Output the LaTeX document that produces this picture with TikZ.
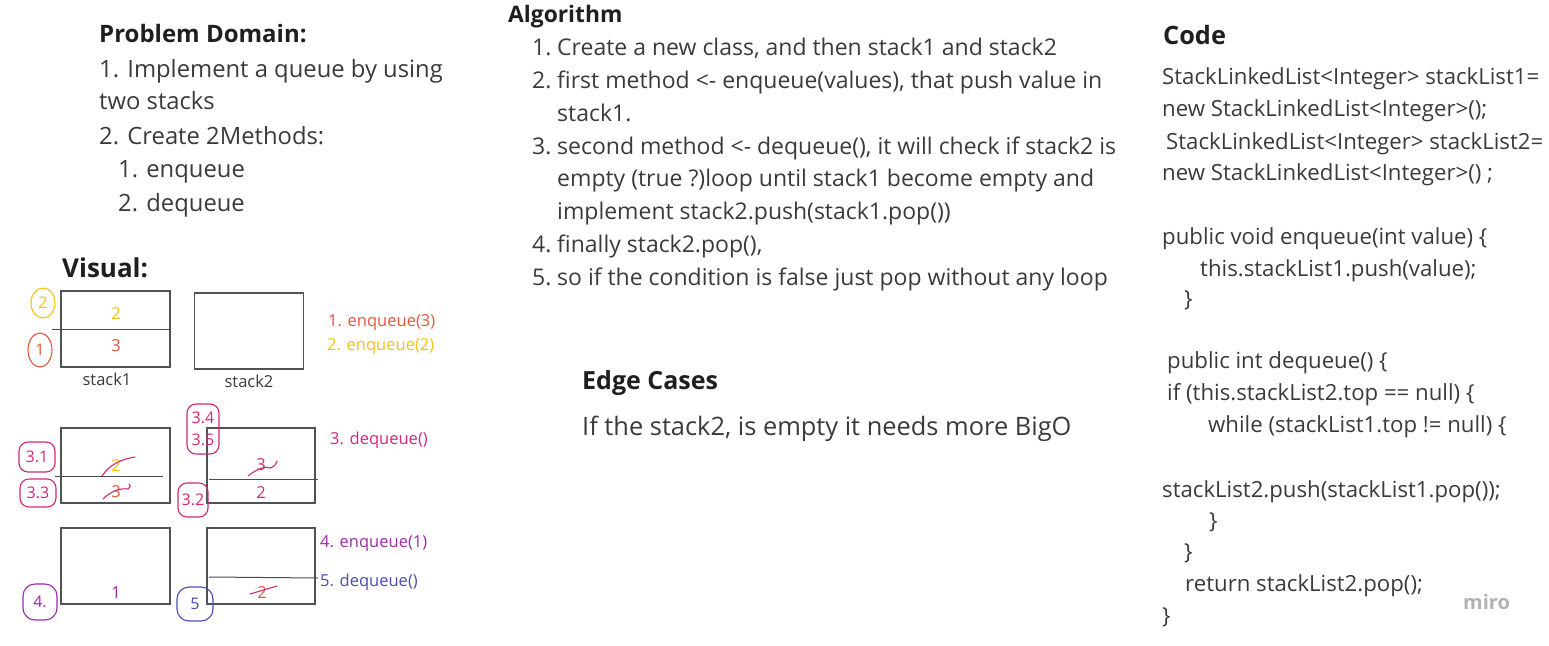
\documentclass[tikz,border=0pt]{standalone}
\usepackage{fontspec}
\setmainfont{Open Sans}
\usetikzlibrary{shapes.geometric}

\definecolor{inkgray}{HTML}{3A3A3A}
\definecolor{headink}{HTML}{1F1F1F}
\definecolor{penred}{HTML}{E8553A}
\definecolor{penyellow}{HTML}{F5C213}
\definecolor{penmagenta}{HTML}{D1287A}
\definecolor{penpurple}{HTML}{9C2AA8}
\definecolor{penblue}{HTML}{4B4BB5}

\begin{document}
\begin{tikzpicture}[x=1pt,y=-1pt,
  heading/.style={anchor=base west,inner sep=0pt,text=headink,font=\fontsize{24}{28}\bfseries\selectfont},
  body/.style={anchor=base west,inner sep=0pt,text=inkgray,font=\fontsize{23.8}{28}\selectfont},
  algo/.style={anchor=base west,inner sep=0pt,text=inkgray,font=\fontsize{23}{28}\selectfont},
  code/.style={anchor=base west,inner sep=0pt,text=inkgray,font=\fontsize{22.2}{28}\selectfont},
  stackbox/.style={draw=black!68,line width=1.4pt,minimum width=109pt,minimum height=76pt,inner sep=0pt},
  divider/.style={draw=black!70,line width=1pt},
  num/.style={inner sep=0pt,font=\fontsize{16.5}{20}\selectfont},
  steplabel/.style={anchor=west,inner sep=0pt,font=\fontsize{16.5}{20}\selectfont},
  ringmark/.style={draw,line width=1.1pt,rounded corners=9pt,inner sep=1pt,font=\fontsize{16}{19}\selectfont},
  strike/.style={line width=1.1pt,line cap=round}
]
\useasboundingbox (0,0) rectangle (1549,645);

% problem domain
\node[heading] (pdhead) at (99,42) {Problem Domain:};
\node[body] (pd1) at (99,77) {1. Implement a queue by using};
\node[body] (pd2) at (99,109) {two stacks};
\node[body] (pd3) at (99,144) {2. Create 2Methods:};
\node[body] (pd4) at (118,177) {1. enqueue};
\node[body] (pd5) at (118,211) {2. dequeue};

% algorithm
\node[heading,font=\fontsize{22.8}{26}\bfseries\selectfont] (alhead) at (508,23) {Algorithm};
\foreach \n/\y in {1./55, 2./88, 3./154, 4./252, 5./285}
  \node[algo] (alnum\y) at (532,\y) {\n};
\node[algo] (al1) at (557,55) {Create a new class, and then stack1 and stack2};
\node[algo] (al2) at (557,88) {first method <- enqueue(values), that push value in};
\node[algo] (al3) at (557,121) {stack1.};
\node[algo] (al4) at (557,154) {second method <- dequeue(), it will check if stack2 is};
\node[algo] (al5) at (557,186) {empty (true ?)loop until stack1 become empty and};
\node[algo] (al6) at (557,219) {implement stack2.push(stack1.pop())};
\node[algo] (al7) at (557,252) {finally stack2.pop(),};
\node[algo] (al8) at (557,285) {so if the condition is false just pop without any loop};

% edge cases
\node[heading,font=\fontsize{25}{29}\bfseries\selectfont] (edhead) at (582,389) {Edge Cases};
\node[body,font=\fontsize{25.4}{30}\selectfont] (ed1) at (582,435) {If the stack2, is empty it needs more BigO};

% code
\node[heading,font=\fontsize{25.3}{29}\bfseries\selectfont] (cohead) at (1163,44) {Code};
\foreach \x/\y/\t in {
  1162/84/{StackLinkedList<Integer> stackList1=},
  1162/116/{new StackLinkedList<Integer>();},
  1166/149/{StackLinkedList<Integer> stackList2=},
  1162/180/{new StackLinkedList<Integer>() ;},
  1162/244/{public void enqueue(int value) \{},
  1200/276/{this.stackList1.push(value);},
  1184/306/{\}},
  1167/368/{public int dequeue() \{},
  1167/400/{if (this.stackList2.top == null) \{},
  1208/432/{while (stackList1.top != null) \{},
  1162/497/{stackList2.push(stackList1.pop());},
  1209/528/{\}},
  1184/559/{\}},
  1185/591/{return stackList2.pop();},
  1162/623/{\}}}
  \node[code] (co\y) at (\x,\y) {\t};
\node[anchor=base west,inner sep=0pt,text=black!30,font=\fontsize{20}{24}\bfseries\selectfont] (miro) at (1463,609) {miro};

% visual
\node[heading,font=\fontsize{26}{30}\bfseries\selectfont] (vihead) at (62,277) {Visual:};

% row 1: enqueue(3), enqueue(2)
\node[stackbox] (s1a) at (115.5,329) {};
\node[stackbox] (s2a) at (249,331) {};
\draw[divider] (52,329) -- (s1a.east);
\node[num,text=penyellow] (v2a) at (116,314) {2};
\node[num,text=penred] (v3a) at (116,346) {3};
\node[num,text=inkgray] (lb1) at (107,379) {stack1};
\node[num,text=inkgray] (lb2) at (249,381) {stack2};
\node[ringmark,ellipse,draw=penyellow,text=penyellow,minimum width=24pt,minimum height=30pt,rounded corners=0pt] (m2) at (43,303) {2};
\node[ringmark,ellipse,draw=penred,text=penred,minimum width=24pt,minimum height=34pt,rounded corners=0pt] (m1) at (40,350) {1};
\node[steplabel,text=penred] (st1) at (328,323) {1. enqueue(3)};
\node[steplabel,text=penyellow] (st2) at (327,347) {2. enqueue(2)};

% row 2: dequeue()
\node[stackbox,minimum height=75pt] (s1b) at (115.5,465.5) {};
\node[stackbox,minimum width=108pt,minimum height=75pt] (s2b) at (261,465.5) {};
\draw[divider] (55,476) -- (163,476);
\draw[divider] (209,479) -- (318,479);
\node[num,text=penyellow] (v2b) at (116,466) {2};
\node[num,text=penred] (v3b) at (116,492) {3};
\draw[strike,penmagenta] (102,476) .. controls (110,464) and (122,459) .. (135,457);
\draw[strike,penmagenta] (103,499) .. controls (112,490) and (122,488) .. (128,489) .. controls (131,486) .. (129,484);
\node[num,text=penmagenta] (v3c) at (261,465) {3};
\draw[strike,penmagenta] (248,476) .. controls (258,468) and (266,466) .. (270,468) .. controls (275,466) .. (277,461);
\node[num,text=penmagenta] (v2c) at (261,493) {2};
\node[ringmark,draw=penmagenta,text=penmagenta,minimum width=36pt,minimum height=30pt] (m31) at (37,457) {3.1};
\node[ringmark,draw=penmagenta,text=penmagenta,minimum width=36pt,minimum height=28pt] (m33) at (38,493) {3.3};
\node[ringmark,draw=penmagenta,text=penmagenta,minimum width=32pt,minimum height=50pt,align=center,font=\fontsize{16}{22}\selectfont] (m34) at (203,429) {3.4\\3.5};
\node[ringmark,draw=penmagenta,text=penmagenta,minimum width=30pt,minimum height=34pt] (m32) at (193,500) {3.2};
\node[steplabel,text=penmagenta] (st3) at (330,440) {3. dequeue()};

% row 3: enqueue(1), dequeue()
\node[stackbox] (s1c) at (115.5,566) {};
\node[stackbox,minimum width=108pt] (s2c) at (261,566) {};
\draw[divider] (209,577) -- (318,578);
\node[num,text=penpurple] (v1c) at (116,593) {1};
\node[num,text=penred] (v2d) at (262,593) {2};
\draw[strike,penmagenta] (250,594) -- (277,586);
\node[ringmark,draw=penpurple,text=penpurple,minimum width=34pt,minimum height=36pt,rounded corners=12pt] (m4) at (40,602) {4.};
\node[ringmark,draw=penblue,text=penblue,minimum width=36pt,minimum height=34pt,rounded corners=12pt] (m5) at (195,604) {5};
\node[steplabel,text=penpurple] (st4) at (320,544) {4. enqueue(1)};
\node[steplabel,text=penblue] (st5) at (320,582) {5. dequeue()};
\end{tikzpicture}
\end{document}
